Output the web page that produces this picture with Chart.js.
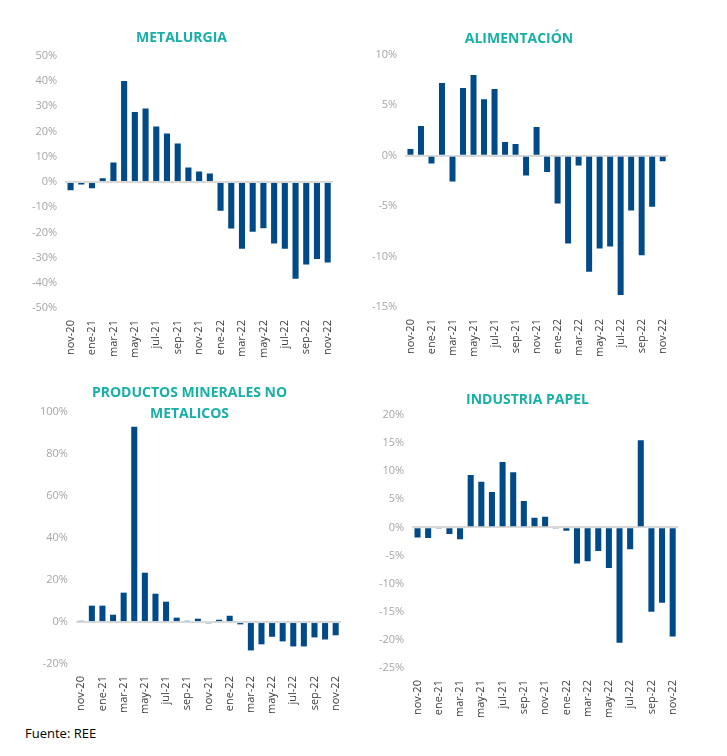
<!DOCTYPE html>
<html>
<head>
<meta charset="utf-8">
<script src="https://cdn.jsdelivr.net/npm/chart.js@4"></script>
<style>
  body { margin: 0; background: #fff; width: 727px; height: 756px; position: relative; overflow: hidden; }
  .panel { position: absolute; }
  .source { position: absolute; left: 25px; top: 724px; font: 13px 'Open Sans', sans-serif; color: #000; }
</style>
</head>
<body>
<div class="panel" style="left:20px;top:24px;width:325px;height:338px"><canvas id="c1"></canvas></div>
<div class="panel" style="left:360px;top:25px;width:320px;height:336px"><canvas id="c2"></canvas></div>
<div class="panel" style="left:28px;top:378px;width:325px;height:340px"><canvas id="c3"></canvas></div>
<div class="panel" style="left:367px;top:386px;width:323px;height:336px"><canvas id="c4"></canvas></div>
<div class="source">Fuente: REE</div>
<script>
// ── Data ─────────────────────────────────────────────────────────────────────
const months = ['nov-20', 'dic-20', 'ene-21', 'feb-21', 'mar-21', 'abr-21', 'may-21', 'jun-21', 'jul-21',
  'ago-21', 'sep-21', 'oct-21', 'nov-21', 'dic-21', 'ene-22', 'feb-22', 'mar-22', 'abr-22', 'may-22',
  'jun-22', 'jul-22', 'ago-22', 'sep-22', 'oct-22', 'nov-22'];

const metalurgia = [-3.3, -1.0, -2.5, 1.5, 7.7, 40.0, 27.7, 29.1, 22.0, 19.2, 15.2, 5.7, 4.1, 3.3,
  -11.4, -18.5, -26.5, -19.7, -18.4, -24.4, -26.5, -38.4, -32.7, -30.5, -31.9];

const alimentacion = [0.66, 2.95, -0.76, 7.2, -2.55, 6.7, 8.0, 5.6, 6.6, 1.36, 1.16, -1.95, 2.85, -1.62,
  -4.73, -8.7, -0.96, -11.5, -9.2, -9.0, -13.8, -5.43, -9.87, -5.07, -0.56];

const minerales = [0.6, 7.8, 7.8, 3.5, 14.0, 93.0, 23.5, 13.5, 9.7, 2.1, 0.6, 1.6, -0.6, 1.1, 3.0,
  -1.1, -13.5, -10.6, -7.0, -9.2, -11.6, -11.6, -7.3, -8.3, -6.3];

const papel = [-1.8, -1.9, -0.2, -1.2, -2.1, 9.3, 8.1, 6.3, 11.6, 9.8, 4.7, 1.7, 1.9, -0.2, -0.6,
  -6.4, -6.0, -4.2, -7.2, -20.5, -3.9, 15.5, -15.0, -13.4, -19.4];

const titles = {
  c1: 'METALURGIA',
  c2: 'ALIMENTACIÓN',
  c3: ['PRODUCTOS MINERALES NO', 'METALICOS'],
  c4: 'INDUSTRIA PAPEL',
};

// y axis ranges: [min, max, step]
const ranges = {
  c1: [-50, 50, 10],
  c2: [-15, 10, 5],
  c3: [-20, 100, 20],
  c4: [-25, 20, 5],
};

// title padding [top, bottom] and line height; the two-line one tucks the plot up beside its 2nd line
const titlePad = { c1: [6, 9], c2: [6, 7], c3: [5, -13], c4: [6, 6] };
const titleLine = { c1: 1.2, c2: 1.2, c3: 1.5, c4: 1.2 };

// ── Styles ───────────────────────────────────────────────────────────────────
const BAR = '#004B87';
const TEAL = '#17B0A7';
Chart.defaults.font.family = "'Open Sans', 'Noto Sans', sans-serif";

function makeChart(id, values) {
  const [min, max, step] = ranges[id];
  const ctx = document.getElementById(id).getContext('2d');
  return new Chart(ctx, {
    type: 'bar',
    data: {
      labels: months,
      datasets: [{
        data: values,
        backgroundColor: BAR,
        borderWidth: 0,
        barPercentage: 0.6,
        categoryPercentage: 0.95,
      }]
    },
    options: {
      responsive: true,
      maintainAspectRatio: false,
      animation: false,
      layout: { padding: { left: 4, right: 6 } },
      plugins: {
        legend: { display: false },
        tooltip: { enabled: false },
        title: {
          display: true,
          text: titles[id],
          color: TEAL,
          font: { size: 14, weight: 'bold', lineHeight: titleLine[id] },
          padding: { top: titlePad[id][0], bottom: titlePad[id][1] },
        },
      },
      scales: {
        x: {
          grid: { display: false },
          border: { display: false },
          ticks: {
            autoSkip: false,
            maxRotation: 90,
            minRotation: 90,
            color: '#404040',
            font: { size: 11 },
            padding: 4,
            callback: (v, i) => (i % 2 === 0 ? months[i] : ''),
          },
        },
        y: {
          min, max,
          border: { display: false },
          grid: {
            drawTicks: false,
            color: c => (c.tick && c.tick.value === 0 ? '#D9D9D9' : 'transparent'),
            lineWidth: 2,
          },
          ticks: {
            stepSize: step,
            color: '#A6A6A6',
            font: { size: 11 },
            padding: 8,
            callback: v => v + '%',
          },
        },
      },
    },
  });
}

makeChart('c1', metalurgia);
makeChart('c2', alimentacion);
makeChart('c3', minerales);
makeChart('c4', papel);
</script>
</body>
</html>
